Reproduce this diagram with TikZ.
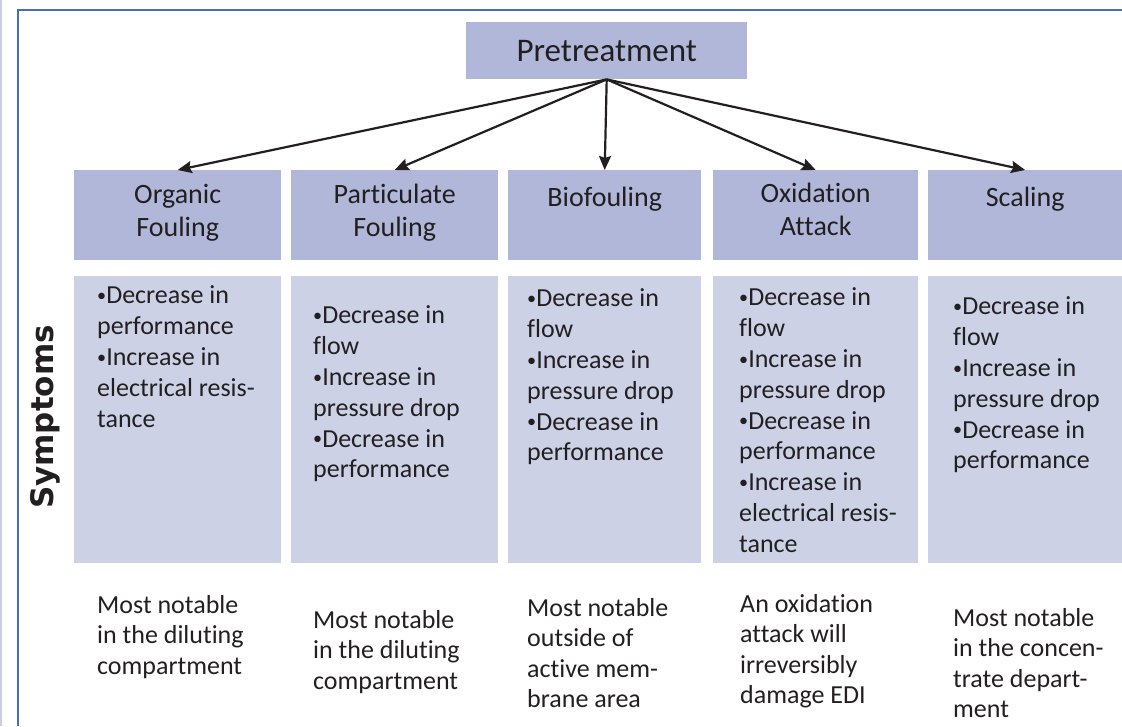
\documentclass[tikz,border=0pt]{standalone}
\usepackage{fontspec}
\usepackage{graphicx}
\setmainfont{Carlito}[Ligatures=NoCommon]
\newfontfamily\symfont{DejaVu Sans}
\usetikzlibrary{arrows.meta}
\newcommand\mybul{\raisebox{2.2pt}{\scalebox{0.7}{•}}}
\definecolor{hdrfill}{RGB}{176,183,217}
\definecolor{symfill}{RGB}{204,209,230}
\definecolor{framecol}{RGB}{74,111,176}
\definecolor{edgecol}{RGB}{200,206,232}
\definecolor{ink}{RGB}{35,31,32}
\tikzset{
  hbox/.style={fill=hdrfill, draw=none, inner sep=0pt, anchor=north west},
  sbox/.style={fill=symfill, draw=none, inner sep=0pt, anchor=north west},
  title/.style={inner sep=0pt, anchor=north, align=center, text=ink,
    font=\fontsize{28}{33}\selectfont, execute at begin node=\strut},
  body/.style={inner sep=0pt, anchor=north west, align=left, text=ink,
    font=\fontsize{26}{30.8}\selectfont, execute at begin node=\strut},
  note/.style={inner sep=0pt, anchor=north west, align=left, text=ink,
    font=\fontsize{26}{30.5}\selectfont, execute at begin node=\strut},
  arr/.style={draw=ink, line width=2.2pt, -{Stealth[length=14pt,width=12pt,inset=2pt]}},
}
\begin{document}
\begin{tikzpicture}[x=1pt,y=-1pt]
\useasboundingbox (0,0) rectangle (1122,726);
% frame
\draw[edgecol, line width=2pt] (1,0) -- (1,726);
\draw[framecol, line width=2pt] (18,726) -- (18,10) -- (1122,10);

% top box
\node[hbox, minimum width=281pt, minimum height=57pt, text=ink,
  font=\fontsize{33}{38}\selectfont] (pre) at (466,22) {Pretreatment};

% header boxes
\node[hbox, minimum width=207pt, minimum height=90pt] (h1) at (74,170) {};
\node[hbox, minimum width=207pt, minimum height=90pt] (h2) at (291,170) {};
\node[hbox, minimum width=193pt, minimum height=90pt] (h3) at (508,170) {};
\node[hbox, minimum width=205pt, minimum height=90pt] (h4) at (713,170) {};
\node[hbox, minimum width=194pt, minimum height=90pt] (h5) at (928,170) {};

\node[title] (t1) at ([yshift=-14pt]h1.north) {Organic\\Fouling};
\node[title] (t2) at ([yshift=-14pt]h2.north) {Particulate\\Fouling};
\node[title] (t3) at ([yshift=-13pt]h3.north) {Biofouling};
\node[title] (t4) at ([yshift=-13pt]h4.north) {Oxidation\\Attack};
\node[title] (t5) at ([yshift=-13pt]h5.north) {Scaling};

% arrows
\draw[arr] (pre.south) -- (h1.north);
\draw[arr] (pre.south) -- (h2.north);
\draw[arr] (pre.south) -- (h3.north);
\draw[arr] (pre.south) -- (h4.north);
\draw[arr] (pre.south) -- (h5.north);

% symptom boxes
\node[sbox, minimum width=207pt, minimum height=287pt] (s1) at (74,276) {};
\node[sbox, minimum width=207pt, minimum height=287pt] (s2) at (291,276) {};
\node[sbox, minimum width=193pt, minimum height=287pt] (s3) at (508,276) {};
\node[sbox, minimum width=205pt, minimum height=287pt] (s4) at (713,276) {};
\node[sbox, minimum width=194pt, minimum height=287pt] (s5) at (928,276) {};

\node[body] (b1) at (97,285.8) {\mybul Decrease in\\performance\\\mybul Increase in\\electrical resis-\\tance};
\node[body] (b2) at (313,305.8) {\mybul Decrease in\\flow\\\mybul Increase in\\pressure drop\\\mybul Decrease in\\performance};
\node[body] (b3) at (527,288.8) {\mybul Decrease in\\flow\\\mybul Increase in\\pressure drop\\\mybul Decrease in\\performance};
\node[body] (b4) at (739,287.8) {\mybul Decrease in\\flow\\\mybul Increase in\\pressure drop\\\mybul Decrease in\\performance\\\mybul Increase in\\electrical resis-\\tance};
\node[body] (b5) at (953,296.8) {\mybul Decrease in\\flow\\\mybul Increase in\\pressure drop\\\mybul Decrease in\\performance};

% side label
\node[rotate=90, inner sep=0pt, text=ink, font=\symfont\bfseries\fontsize{31}{36}\selectfont] (sy) at (45,417) {Symptoms};

% notes
\node[note] (n1) at (97,595) {Most notable\\in the diluting\\compartment};
\node[note] (n2) at (313,610) {Most notable\\in the diluting\\compartment};
\node[note] (n3) at (527,598) {Most notable\\outside of\\active mem-\\brane area};
\node[note] (n4) at (740,594) {An oxidation\\attack will\\irreversibly\\damage EDI};
\node[note] (n5) at (953,608) {Most notable\\in the concen-\\trate depart-\\ment};
\end{tikzpicture}
\end{document}
